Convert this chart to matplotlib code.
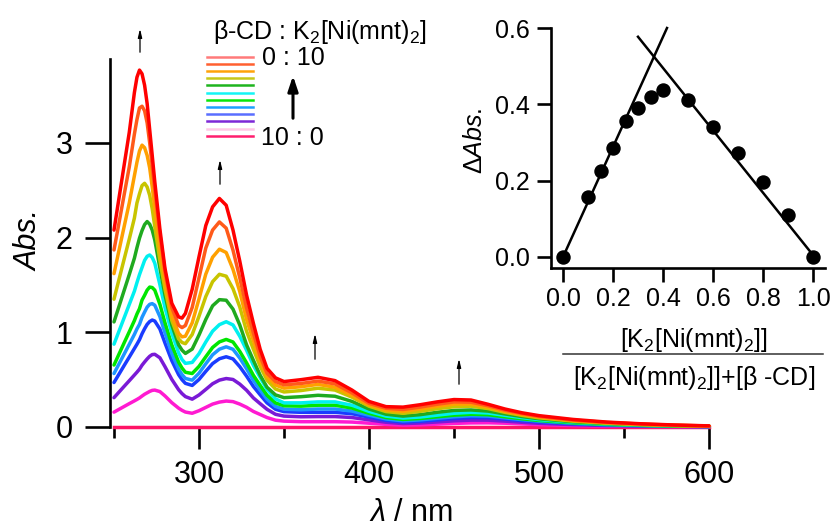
import matplotlib.pyplot as plt

plt.rcParams['font.family'] = ['Liberation Sans', 'DejaVu Sans']
plt.rcParams['mathtext.fontset'] = 'custom'
plt.rcParams['mathtext.rm'] = 'Liberation Sans'
plt.rcParams['mathtext.it'] = 'Liberation Sans:italic'
plt.rcParams['mathtext.bf'] = 'Liberation Sans:bold'

# ---- UV-vis spectra (beta-CD : K2[Ni(mnt)2] series) ----
wavelength = [250, 253, 256, 259, 262, 263.5, 265, 266.5, 268, 269.5, 271, 272.5, 274, 277, 280,
              284, 288, 290, 292, 296, 300, 304, 308, 312, 316, 320, 324, 328, 332, 336, 340,
              345, 350,
              360, 370, 380, 390, 400, 410, 420, 430, 440, 450, 460, 470, 480, 490, 500,
              520, 540, 560, 580, 600]

spec_01 = [2.08, 2.425, 2.77, 3.114, 3.533, 3.694, 3.77, 3.73, 3.61, 3.416, 3.14, 2.866, 2.59, 2.09, 1.674,
           1.307, 1.163, 1.15, 1.20, 1.455, 1.798, 2.128, 2.325, 2.414, 2.342, 2.08, 1.751, 1.392, 1.095, 0.82, 0.62,
           0.519, 0.48,
           0.50, 0.525, 0.49, 0.39, 0.27, 0.215, 0.21, 0.235, 0.265, 0.29, 0.285, 0.24, 0.19, 0.15, 0.12,
           0.08, 0.052, 0.034, 0.021, 0.012]
spec_02 = [1.87, 2.16, 2.456, 2.748, 3.094, 3.247, 3.37, 3.388, 3.34, 3.212, 3.0, 2.754, 2.507, 2.037, 1.638,
           1.262, 1.074, 1.05, 1.072, 1.263, 1.576, 1.89, 2.08, 2.166, 2.10, 1.868, 1.575, 1.256, 0.992, 0.747, 0.569,
           0.48, 0.445,
           0.46, 0.485, 0.455, 0.36, 0.25, 0.198, 0.185, 0.21, 0.24, 0.265, 0.262, 0.225, 0.178, 0.142, 0.112,
           0.073, 0.048, 0.031, 0.019, 0.011]
spec_03 = [1.62, 1.87, 2.119, 2.368, 2.654, 2.796, 2.916, 2.977, 2.95, 2.868, 2.736, 2.533, 2.31, 1.884, 1.539,
           1.173, 0.99, 0.952, 0.959, 1.10, 1.353, 1.615, 1.793, 1.878, 1.843, 1.665, 1.429, 1.134, 0.912, 0.698, 0.536,
           0.443, 0.41,
           0.425, 0.45, 0.42, 0.335, 0.235, 0.18, 0.165, 0.19, 0.218, 0.242, 0.242, 0.21, 0.166, 0.133, 0.105,
           0.068, 0.044, 0.028, 0.017, 0.010]
spec_04 = [1.35, 1.563, 1.775, 1.986, 2.207, 2.366, 2.464, 2.55, 2.574, 2.535, 2.447, 2.303, 2.117, 1.761, 1.456,
           1.126, 0.931, 0.893, 0.88, 0.977, 1.17, 1.378, 1.535, 1.613, 1.593, 1.461, 1.267, 1.01, 0.821, 0.64, 0.495,
           0.401, 0.37,
           0.385, 0.41, 0.39, 0.315, 0.22, 0.163, 0.145, 0.165, 0.193, 0.214, 0.22, 0.195, 0.155, 0.123, 0.097,
           0.062, 0.04, 0.025, 0.015, 0.009]
spec_05 = [1.11, 1.277, 1.444, 1.611, 1.783, 1.894, 1.995, 2.075, 2.138, 2.17, 2.142, 2.079, 1.974, 1.68, 1.393,
           1.078, 0.868, 0.812, 0.777, 0.823, 0.971, 1.136, 1.28, 1.345, 1.339, 1.245, 1.077, 0.867, 0.704, 0.546, 0.42,
           0.339, 0.31,
           0.32, 0.335, 0.325, 0.27, 0.19, 0.135, 0.115, 0.13, 0.155, 0.175, 0.18, 0.168, 0.138, 0.11, 0.087,
           0.055, 0.035, 0.022, 0.013, 0.008]
spec_06 = [0.875, 1.015, 1.155, 1.295, 1.435, 1.525, 1.61, 1.685, 1.76, 1.803, 1.817, 1.79, 1.73, 1.503, 1.259,
           0.992, 0.783, 0.713, 0.672, 0.682, 0.774, 0.898, 1.012, 1.081, 1.112, 1.078, 0.958, 0.811, 0.651, 0.522, 0.397,
           0.297, 0.255,
           0.255, 0.265, 0.265, 0.23, 0.165, 0.115, 0.095, 0.105, 0.125, 0.145, 0.155, 0.148, 0.123, 0.099, 0.078,
           0.05, 0.031, 0.019, 0.012, 0.007]
spec_07 = [0.655, 0.772, 0.89, 1.006, 1.124, 1.193, 1.25, 1.341, 1.391, 1.446, 1.478, 1.473, 1.445, 1.296, 1.10,
           0.867, 0.685, 0.623, 0.578, 0.565, 0.64, 0.742, 0.84, 0.899, 0.925, 0.898, 0.798, 0.677, 0.546, 0.439, 0.336,
           0.254, 0.224,
           0.22, 0.23, 0.23, 0.2, 0.145, 0.1, 0.08, 0.09, 0.108, 0.125, 0.135, 0.13, 0.108, 0.087, 0.069,
           0.044, 0.027, 0.017, 0.01, 0.006]
spec_08 = [0.565, 0.668, 0.771, 0.874, 0.978, 1.036, 1.084, 1.159, 1.214, 1.266, 1.296, 1.303, 1.286, 1.166, 0.993,
           0.778, 0.612, 0.554, 0.513, 0.495, 0.568, 0.668, 0.763, 0.822, 0.847, 0.821, 0.728, 0.614, 0.491, 0.39, 0.294,
           0.217, 0.188,
           0.182, 0.19, 0.19, 0.168, 0.125, 0.085, 0.065, 0.075, 0.092, 0.108, 0.118, 0.115, 0.097, 0.078, 0.062,
           0.039, 0.024, 0.015, 0.009, 0.005]
spec_09 = [0.47, 0.56, 0.65, 0.739, 0.829, 0.874, 0.922, 0.985, 1.038, 1.084, 1.114, 1.13, 1.119, 1.035, 0.887,
           0.701, 0.553, 0.50, 0.461, 0.439, 0.502, 0.588, 0.67, 0.721, 0.742, 0.719, 0.637, 0.537, 0.428, 0.34, 0.255,
           0.187, 0.162,
           0.155, 0.155, 0.155, 0.14, 0.105, 0.07, 0.052, 0.06, 0.075, 0.09, 0.1, 0.098, 0.084, 0.068, 0.054,
           0.034, 0.021, 0.013, 0.008, 0.005]
spec_10 = [0.31, 0.37, 0.43, 0.489, 0.549, 0.579, 0.611, 0.653, 0.687, 0.719, 0.747, 0.765, 0.768, 0.731, 0.637,
           0.503, 0.394, 0.353, 0.321, 0.294, 0.338, 0.397, 0.457, 0.495, 0.512, 0.502, 0.453, 0.388, 0.307, 0.246, 0.187,
           0.134, 0.115,
           0.108, 0.11, 0.11, 0.1, 0.075, 0.05, 0.036, 0.042, 0.053, 0.065, 0.072, 0.072, 0.062, 0.05, 0.039,
           0.025, 0.015, 0.009, 0.006, 0.003]
spec_11 = [0.157, 0.187, 0.217, 0.247, 0.276, 0.291, 0.307, 0.327, 0.346, 0.361, 0.376, 0.387, 0.39, 0.374, 0.328,
           0.257, 0.199, 0.176, 0.158, 0.145, 0.172, 0.207, 0.242, 0.263, 0.274, 0.268, 0.242, 0.208, 0.164, 0.132, 0.10,
           0.072, 0.062,
           0.056, 0.056, 0.056, 0.052, 0.04, 0.028, 0.02, 0.023, 0.03, 0.038, 0.043, 0.044, 0.04, 0.032, 0.025,
           0.016, 0.009, 0.006, 0.004, 0.002]
# 10 : 0 (no Ni complex)
baseline_wl = [250, 600]
baseline_abs = [0.0, 0.0]

spectra = [spec_01, spec_02, spec_03, spec_04, spec_05, spec_06,
           spec_07, spec_08, spec_09, spec_10, spec_11]
curve_colors = ['#ff0000', '#ff5a1a', '#ffa000', '#c8c400', '#1faa1f', '#00f0f0',
                '#00e600', '#1e96ff', '#1a3cff', '#7a1ad6', '#ff1ad1']
baseline_color = '#ff1466'
legend_colors = ['#ff7a7a', '#ff6030', '#ffa30a', '#c8c81a', '#1eb41e', '#14f5f5',
                 '#0ae60a', '#1ea0ff', '#5a6eff', '#7d28d7', '#ffc8e6', '#ff1e6e']

# ---- Job plot (inset) ----
mole_fraction = [0.0, 0.1, 0.15, 0.2, 0.25, 0.3, 0.35, 0.4, 0.5, 0.6, 0.7, 0.8, 0.9, 1.0]
delta_abs = [0.0, 0.157, 0.226, 0.286, 0.356, 0.391, 0.420, 0.438, 0.411, 0.341, 0.273, 0.196, 0.111, 0.0]
fit1_x = [0.0, 0.416]
fit1_y = [0.0, 0.60]
fit2_x = [0.30, 1.0]
fit2_y = [0.577, 0.005]

W, H = 830, 531
fig = plt.figure(figsize=(W / 100, H / 100), dpi=100)


def rect(x0, y0, x1, y1):
    # pixel box (top-left origin) -> figure fraction
    return [x0 / W, 1 - y1 / H, (x1 - x0) / W, (y1 - y0) / H]


# main axes
ax = fig.add_axes(rect(110, 59, 709, 427))
ax.set_facecolor('none')
ax.plot(baseline_wl, baseline_abs, color=baseline_color, lw=2.5, clip_on=False)
for ys, c in reversed(list(zip(spectra, curve_colors))):
    ax.plot(wavelength, ys, color=c, lw=2.5, clip_on=False,
            solid_joinstyle='round', solid_capstyle='round')

ax.set_xlim(247.65, 600)
ax.set_ylim(0, 3.887)
for s in ['top', 'right', 'bottom']:
    ax.spines[s].set_visible(False)
ax.spines['left'].set_linewidth(1.9)
ax.set_xticks([300, 400, 500, 600])
ax.set_xticks([250, 350, 450, 550], minor=True)
ax.set_yticks([0, 1, 2, 3])
ax.tick_params(axis='x', which='major', direction='out', length=16, width=1.9, pad=8, labelsize=22)
ax.tick_params(axis='x', which='minor', direction='out', length=8, width=1.9)
ax.tick_params(axis='y', which='major', direction='out', length=18, width=1.9, pad=9, labelsize=22)
ax.tick_params(axis='y', which='minor', left=False)

# inset (Job plot)
ins = fig.add_axes(rect(551, 28, 825, 268))
ins.set_facecolor('none')
ins.plot(fit1_x, fit1_y, color='black', lw=1.8, clip_on=False)
ins.plot(fit2_x, fit2_y, color='black', lw=1.8, clip_on=False)
ins.plot(mole_fraction, delta_abs, 'o', color='black', ms=9.4, clip_on=False)
ins.set_xlim(-0.048, 1.048)
ins.set_ylim(-0.0289, 0.6)
ins.spines['top'].set_visible(False)
ins.spines['right'].set_visible(False)
ins.spines['left'].set_linewidth(1.9)
ins.spines['bottom'].set_linewidth(1.9)
ins.set_xticks([0.0, 0.2, 0.4, 0.6, 0.8, 1.0])
ins.set_yticks([0.0, 0.2, 0.4, 0.6])
ins.tick_params(axis='both', direction='out', length=10, width=1.9, labelsize=18)
ins.tick_params(axis='x', pad=4)
ins.tick_params(axis='y', pad=5)

# overlay in pixel coordinates for labels / legend / arrows
ov = fig.add_axes([0, 0, 1, 1], facecolor='none')
ov.set_xlim(0, W)
ov.set_ylim(H, 0)
ov.axis('off')

for i, c in enumerate(legend_colors):
    y = 56.7 + i * 7.18
    ov.plot([207, 253], [y, y], color=c, lw=1.8)
ov.text(213, 38.5, 'β-CD : K$_2$[Ni(mnt)$_2$]', fontsize=18, ha='left', va='baseline')
ov.text(262, 65, '0 : 10', fontsize=18, ha='left', va='baseline')
ov.text(261, 145, '10 : 0', fontsize=18, ha='left', va='baseline')
ov.annotate('', xy=(293, 73), xytext=(293, 121),
            arrowprops=dict(arrowstyle='-|>,head_length=0.9,head_width=0.3', color='black', lw=2.2))

for ax_x, y_tail, y_tip in [(140, 55, 26), (220, 187, 157), (315, 362, 331), (459, 387, 356)]:
    ov.annotate('', xy=(ax_x, y_tip), xytext=(ax_x, y_tail),
                arrowprops=dict(arrowstyle='-|>,head_length=0.5,head_width=0.12', color='black', lw=0.9))

ov.text(37.5, 240, 'Abs.', fontsize=22, style='italic', rotation=90, rotation_mode='anchor',
        ha='center', va='baseline')
ov.text(411, 521, r'$\lambda$ / nm', fontsize=22, ha='center', va='baseline')

ov.text(482, 141, r'$\Delta Abs.$', fontsize=18, rotation=90, rotation_mode='anchor',
        ha='center', va='baseline')
ov.text(694, 346.5, '[K$_2$[Ni(mnt)$_2$]]', fontsize=18, ha='center', va='baseline')
ov.plot([563, 823], [354, 354], color='#333333', lw=1.1)
ov.text(694.5, 385, '[K$_2$[Ni(mnt)$_2$]]+[β -CD]', fontsize=18, ha='center', va='baseline')

fig.savefig('out.png', dpi=100)
